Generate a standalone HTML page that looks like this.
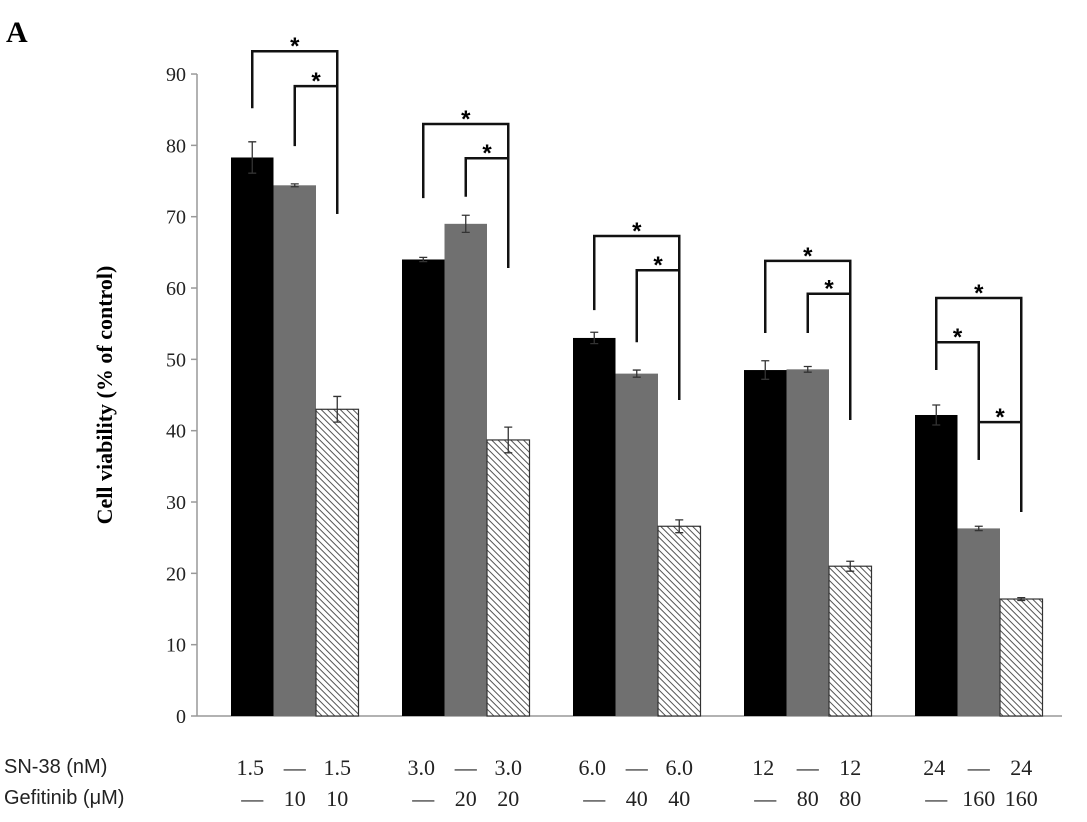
<!DOCTYPE html>
<html><head><meta charset="utf-8"><style>body{margin:0;background:#fff}svg{display:block}</style></head><body>
<svg id="c" width="1087" height="822" xmlns="http://www.w3.org/2000/svg">
<defs><pattern id="hatch" patternUnits="userSpaceOnUse" width="4.5" height="4.5" patternTransform="rotate(-45)"><rect width="4.5" height="4.5" fill="#fff"/><line x1="0" y1="0" x2="0" y2="4.5" stroke="#555" stroke-width="2"/></pattern></defs>
<text x="6" y="42" font-family="Liberation Serif" font-weight="bold" font-size="30">A</text>
</svg>
<script>
const sn38=["1.5","3.0","6.0","12","24"];
const gef=["10","20","40","80","160"];
const black=[78.3,64.0,53.0,48.5,42.2];
const blackErr=[2.2,0.3,0.8,1.3,1.4];
const gray=[74.4,69.0,48.0,48.6,26.3];
const grayErr=[0.2,1.2,0.5,0.4,0.3];
const hatch=[43.0,38.7,26.6,21.0,16.4];
const hatchErr=[1.8,1.8,0.9,0.7,0.2];
const yTicks=[0,10,20,30,40,50,60,70,80,90];
// brackets: [group, fromBar, toBar, top, fromBottom, toBottom]
const brackets=[[0,0,2,93.2,85.2,70.4],[0,1,2,88.3,79.9,70.4],[1,0,2,83,72.6,62.8],[1,1,2,78.2,72.8,62.8],[2,0,2,67.3,56.9,44.3],[2,1,2,62.5,52.4,44.3],[3,0,2,63.8,53.7,41.5],[3,1,2,59.2,53.7,41.5],[4,0,2,58.6,48.5,28.6],[4,0,1,52.4,48.5,35.9],[4,1,2,41.2,35.9,28.6]];
const svg=document.getElementById('c');const NS='http://www.w3.org/2000/svg';
function el(t,a,p){const e=document.createElementNS(NS,t);for(const k in a)e.setAttribute(k,a[k]);(p||svg).appendChild(e);return e;}
const y=v=>716-v*7.133;
const gx=i=>295+i*171;const bw=42.5;
const bx=(g,b)=>gx(g)-64+b*bw;
const bc=(g,b)=>bx(g,b)+bw/2;
let ax=el('line',{x1:197,y1:y(0),x2:1062,y2:y(0),stroke:'#999','stroke-width':1.5});

let ay=el('line',{x1:197,y1:y(0),x2:197,y2:y(90),stroke:'#999','stroke-width':1.5});

yTicks.forEach(t=>{el('line',{x1:191,x2:197,y1:y(t),y2:y(t),stroke:'#999','stroke-width':1.5});
const tx=el('text',{x:186,y:y(t)+7,'text-anchor':'end','font-family':'Liberation Serif','font-size':20,fill:'#222'});tx.textContent=t;
});
const yt=el('text',{transform:'translate(112,395) rotate(-90)','text-anchor':'middle','font-family':'Liberation Serif','font-weight':'bold','font-size':22});
yt.textContent='Cell viability (% of control)';
const series=[[black,blackErr,'#000'],[gray,grayErr,'#707070'],[hatch,hatchErr,'url(#hatch)']];
for(let g=0;g<5;g++){series.forEach((s,b)=>{const v=s[0][g],e=s[1][g];
const r=el('rect',{x:bx(g,b),y:y(v),width:bw,height:y(0)-y(v),fill:s[2],stroke:b==2?'#333':'none','stroke-width':1.2});

const c=bc(g,b);el('path',{d:`M${c},${y(v+e)}V${y(v-e)}M${c-4},${y(v+e)}h8M${c-4},${y(v-e)}h8`,stroke:'#333','stroke-width':1.3,fill:'none'});});
[[sn38[g],'—',sn38[g]],['—',gef[g],gef[g]]].forEach((row,ri)=>row.forEach((t,b)=>{
const tx=el('text',{x:bc(g,b)-(ri==0&&b==0?2:0),y:ri==0?775:806,'text-anchor':'middle','font-family':'Liberation Serif','font-size':22,fill:'#222'});tx.textContent=t;
}));}
brackets.forEach(k=>{const x1=bc(k[0],k[1]),x2=bc(k[0],k[2]);
const p=el('path',{d:`M${x1},${y(k[4])}V${y(k[3])}H${x2}V${y(k[5])}`,stroke:'#111','stroke-width':2.5,fill:'none'});

const s=el('text',{x:(x1+x2)/2,y:y(k[3])+3,'text-anchor':'middle','font-family':'Liberation Sans','font-weight':'bold','font-size':24});s.textContent='*';
});
[['SN-38 (nM)',773],['Gefitinib (μM)',804]].forEach(([t,yy])=>{const tx=el('text',{x:4,y:yy,'font-family':'Liberation Sans','font-size':20,fill:'#222'});tx.textContent=t;
});
</script>
</body></html>
